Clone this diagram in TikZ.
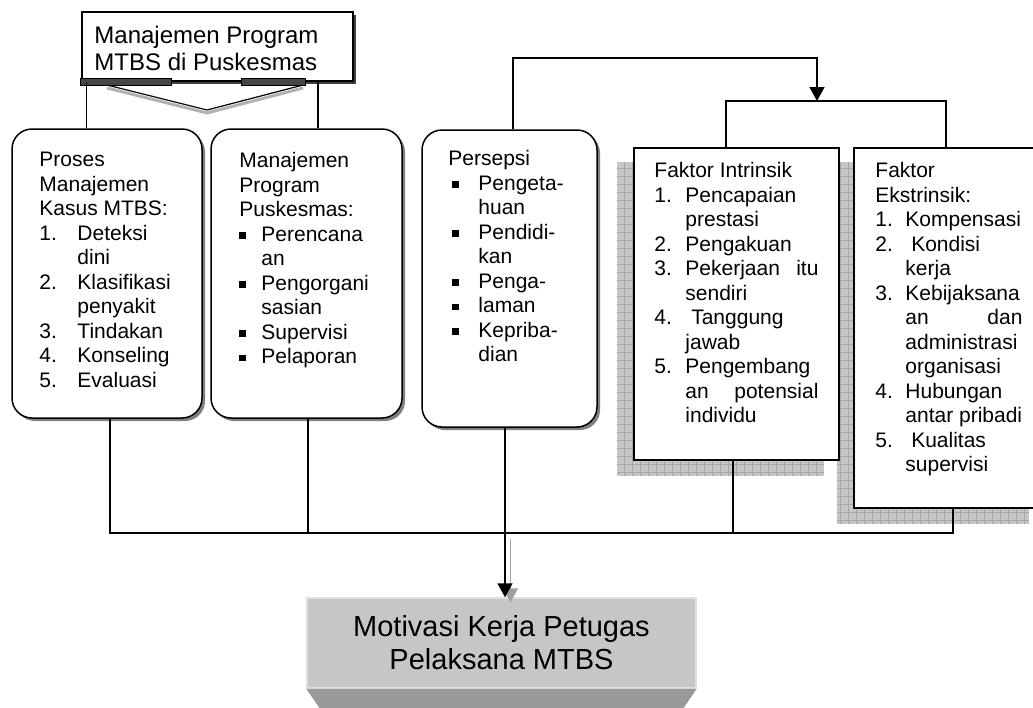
\documentclass[tikz,border=0pt]{standalone}
\usepackage{fontspec}
\setmainfont{Liberation Sans}
\usetikzlibrary{arrows.meta,shadows,backgrounds}

\newcommand{\lead}[2]{\makebox[#1][l]{#2}}
\newcommand{\sqb}{\rule[2.5pt]{6.5pt}{6.5pt}}

\begin{document}
\begin{tikzpicture}[
    x=1pt, y=-1pt,
    conn/.style={line width=1.5pt},
    arr/.style={conn, -{Triangle[width=15pt,length=14pt]}},
    arrshade/.style={arr, gray!75},
    topbox/.style={draw, line width=1.5pt, fill=white,
      drop shadow={shadow xshift=3pt, shadow yshift=-3pt, fill=gray!50!black, opacity=1}},
    roundbox/.style={draw, line width=1.5pt, fill=white, rounded corners=20pt,
      drop shadow={shadow xshift=3pt, shadow yshift=-3pt, fill=gray, opacity=1}},
    plainbox/.style={draw, line width=1.5pt, fill=white},
    resbox/.style={fill=gray!45, draw=gray!25, line width=1.5pt, align=center,
      font=\fontsize{29}{33}\selectfont},
    listtext/.style={anchor=north west, inner sep=0pt, align=left,
      font=\fontsize{21}{24.5}\selectfont},
    gridshade/.style={fill=gray!45},
    gridline/.style={draw=gray!70, line width=0.6pt, step=8pt}
  ]
  \useasboundingbox (0,0) rectangle (1033,707);

  % boxes
  \node[topbox, minimum width=271, minimum height=69] (mtbs) at (217.5,46.5) {};
  \node[listtext, font=\fontsize{24}{27}\selectfont] (mtbsText) at ([shift={(13,15)}]mtbs.north west)
    {Manajemen Program\\MTBS di Puskesmas};

  \node[roundbox, minimum width=190, minimum height=289] (proses) at (107,273.5) {};
  \node[listtext] (prosesText) at ([shift={(28,24)}]proses.north west)
    {Proses\\Manajemen\\Kasus MTBS:\\\lead{38pt}{1.}Deteksi\\\lead{38pt}{}dini\\
     \lead{38pt}{2.}Klasifikasi\\\lead{38pt}{}penyakit\\\lead{38pt}{3.}Tindakan\\
     \lead{38pt}{4.}Konseling\\\lead{38pt}{5.}Evaluasi};

  \node[roundbox, minimum width=191, minimum height=289] (progpk) at (306.5,273.5) {};
  \node[listtext] (progText) at ([shift={(29,24)}]progpk.north west)
    {Manajemen\\Program\\Puskesmas:\\\lead{22pt}{\sqb}Perencana\\\lead{22pt}{}an\\
     \lead{22pt}{\sqb}Pengorgani\\\lead{22pt}{}sasian\\\lead{22pt}{\sqb}Supervisi\\
     \lead{22pt}{\sqb}Pelaporan};

  \node[roundbox, minimum width=175, minimum height=297] (persepsi) at (509.5,278.5) {};
  \node[listtext] (persText) at ([shift={(27,21)}]persepsi.north west)
    {Persepsi\\\lead{30pt}{\hspace{4pt}\sqb}Pengeta-\\\lead{30pt}{}huan\\
     \lead{30pt}{\hspace{4pt}\sqb}Pendidi-\\\lead{30pt}{}kan\\
     \lead{30pt}{\hspace{4pt}\sqb}Penga-\\\lead{30pt}{\hspace{4pt}\sqb}laman\\
     \lead{30pt}{\hspace{4pt}\sqb}Kepriba-\\\lead{30pt}{}dian};

  \node[plainbox, minimum width=205, minimum height=312] (intr) at (736.5,304) {};
  \node[listtext] (intrText) at ([shift={(21,15)}]intr.north west)
    {Faktor Intrinsik\\\lead{31pt}{1.}Pencapaian\\\lead{31pt}{}prestasi\\
     \lead{31pt}{2.}Pengakuan\\\lead{31pt}{3.}\makebox[133pt][s]{Pekerjaan itu}\\
     \lead{31pt}{}sendiri\\\lead{31pt}{4.}\ Tanggung\\\lead{31pt}{}jawab\\
     \lead{31pt}{5.}Pengembang\\\lead{31pt}{}\makebox[133pt][s]{an potensial}\\
     \lead{31pt}{}individu};

  \node[plainbox, minimum width=190, minimum height=360] (ekstr) at (949,328) {};
  \node[listtext] (ekstrText) at ([shift={(22,15)}]ekstr.north west)
    {Faktor\\Ekstrinsik:\\\lead{30pt}{1.}Kompensasi\\\lead{30pt}{2.}\ Kondisi\\
     \lead{30pt}{}kerja\\\lead{30pt}{3.}Kebijaksana\\\lead{30pt}{}\makebox[117pt][s]{an dan}\\
     \lead{30pt}{}administrasi\\\lead{30pt}{}organisasi\\\lead{30pt}{4.}Hubungan\\
     \lead{30pt}{}antar pribadi\\\lead{30pt}{5.}\ Kualitas\\\lead{30pt}{}supervisi};

  \node[resbox, minimum width=389, minimum height=90] (motivasi) at (501.5,643)
    {Motivasi Kerja Petugas\\Pelaksana MTBS};

  % shadows and bevel
  \begin{scope}[on background layer]
    \fill[gridshade] ([shift={(-16,15)}]intr.south west) rectangle ([shift={(-16,15)}]intr.north east);
    \draw[gridline] ([shift={(-16,15)}]intr.south west) grid ([shift={(-16,15)}]intr.north east);
    \fill[gridshade] ([shift={(-16,15)}]ekstr.south west) rectangle ([shift={(-16,15)}]ekstr.north east);
    \draw[gridline] ([shift={(-16,15)}]ekstr.south west) grid ([shift={(-16,15)}]ekstr.north east);
  \end{scope}
  \fill[gray!80] (motivasi.south west) -- (motivasi.south east)
    -- ([shift={(-13,19)}]motivasi.south east) -- ([shift={(13,19)}]motivasi.south west) -- cycle;

  % brace under the top box
  \draw[gray!60, line width=3pt] (107,88) -- (207,113) -- (303,88);
  \draw[line width=1.2pt] (107,85) -- (207,110) -- (303,85);
  \draw[fill=gray!55!black, line width=0.8pt] (80,78) rectangle (171,85);
  \draw[fill=gray!55!black, line width=0.8pt] (241,78) rectangle (305,85);

  % connectors
  \coordinate (persUp) at (817,58);
  \coordinate (fakHub) at (817,101);
  \coordinate (bus) at (505,533);
  \path (bus |- motivasi.north) coordinate (arrEnd);

  \draw[conn] ([xshift=5pt]mtbs.south west) -- ([xshift=5pt]mtbs.south west |- proses.north);
  \draw[conn] ([xshift=-36pt]mtbs.south east) -- ([xshift=-36pt]mtbs.south east |- progpk.north);
  \draw[arr] ([xshift=3.5pt]persepsi.north) |- (persUp) -- (fakHub);
  \draw[conn] ([xshift=-10.5pt]intr.north) |- (fakHub) -| ([xshift=-3pt]ekstr.north);
  \draw[conn] ([xshift=3pt]proses.south) |- (bus) -| ([xshift=4pt]ekstr.south);
  \draw[conn] ([xshift=1.5pt]progpk.south) -- ([xshift=1.5pt]progpk.south |- bus);
  \draw[conn] ([xshift=-3.5pt]intr.south) -- ([xshift=-3.5pt]intr.south |- bus);
  \draw[conn] ([xshift=-4.5pt]persepsi.south) -- (bus);
  \draw[arrshade] ([shift={(5.5,6)}]bus) -- ([shift={(5.5,5)}]arrEnd);
  \draw[arr] (bus) -- (arrEnd);
\end{tikzpicture}
\end{document}
